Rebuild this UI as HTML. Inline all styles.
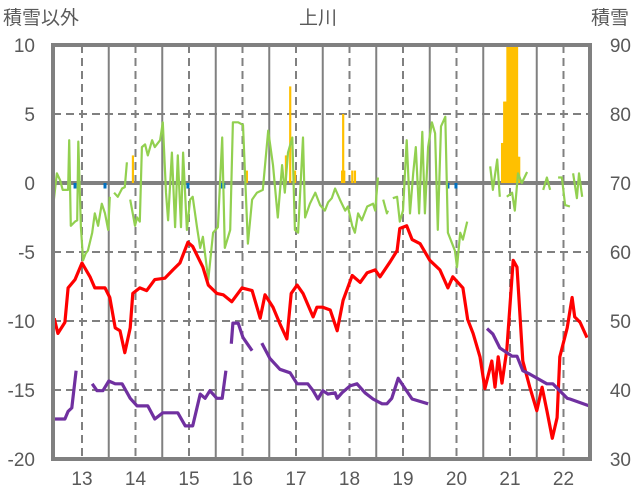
<!DOCTYPE html>
<html><head><meta charset="utf-8">
<style>
html,body{margin:0;padding:0;background:#fff;}
svg{display:block;font-family:"Liberation Sans","Noto Sans CJK JP",sans-serif;}
</style></head>
<body>
<svg id="chart" width="636" height="501" viewBox="0 0 636 501" xmlns="http://www.w3.org/2000/svg">
<text x="3" y="24" font-size="19" fill="#595959">積雪以外</text>
<text x="318" y="24" font-size="19" fill="#595959" text-anchor="middle">上川</text>
<text x="591" y="24" font-size="19" fill="#595959">積雪</text>
<g id="grid"></g>
<g id="bars"></g>
<g id="lines"></g>
<rect x="53" y="45" width="537" height="414" fill="none" stroke="#808080" stroke-width="4"/>
<g id="labels"></g>
</svg>
<script>
const xTicks = [13,14,15,16,17,18,19,20,21,22];
const leftTicks = [10,5,0,-5,-10,-15,-20];
const rightTicks = [90,80,70,60,50,40,30];

const redT = [12.48,12.55,12.68,12.74,12.87,13.0,13.15,13.24,13.43,13.52,13.62,13.71,13.8,13.9,13.95,14.08,14.21,14.36,14.55,14.7,14.83,14.98,15.07,15.26,15.36,15.52,15.64,15.8,15.99,16.18,16.33,16.42,16.57,16.7,16.83,16.91,17.02,17.13,17.32,17.39,17.5,17.64,17.77,17.88,18.05,18.2,18.33,18.48,18.57,18.76,18.89,18.94,19.07,19.17,19.32,19.5,19.69,19.84,19.93,20.12,20.21,20.31,20.44,20.53,20.66,20.72,20.78,20.85,20.94,21.06,21.13,21.24,21.37,21.5,21.6,21.69,21.79,21.88,21.93,22.07,22.16,22.21,22.31,22.44];
const redV = [-9.8,-10.9,-10.1,-7.6,-7.0,-5.8,-6.8,-7.6,-7.6,-8.3,-10.5,-10.7,-12.3,-10.5,-8.0,-7.6,-7.8,-7.0,-6.9,-6.3,-5.8,-4.3,-4.6,-6.1,-7.4,-8.0,-8.1,-8.6,-7.6,-7.8,-9.8,-8.1,-9.0,-10.2,-11.3,-8.0,-7.4,-8.0,-9.7,-9.0,-9.0,-9.2,-10.7,-8.5,-6.7,-7.2,-6.5,-6.3,-6.8,-5.7,-4.9,-3.3,-3.1,-4.1,-4.4,-5.6,-6.3,-7.6,-6.8,-7.6,-9.9,-10.9,-12.6,-14.9,-12.9,-14.8,-12.6,-14.5,-12.1,-5.6,-6.1,-12.9,-14.8,-16.5,-14.8,-16.5,-18.5,-17.0,-12.6,-10.5,-8.3,-9.7,-10.1,-11.2];

// snow depth (right axis); null = gap
const snowT = [12.48,12.68,12.74,12.81,12.89,null,13.19,13.28,13.39,13.5,13.62,13.75,13.9,14.03,14.23,14.36,14.51,14.79,14.93,15.07,15.21,15.3,15.39,15.52,15.62,15.69,null,15.79,15.82,15.92,16.01,16.18,null,16.36,16.51,16.7,16.89,17.02,17.22,17.32,17.41,17.5,17.6,17.73,17.77,17.86,18.01,18.14,18.29,18.44,18.61,18.7,18.79,18.91,19.04,19.17,19.47,null,19.75,19.84,null,20.44,20.57,20.68,20.81,21.04,21.13,21.24,21.37,21.69,21.8,22.07,22.12,22.48];
const snowV = [35.8,35.8,36.9,37.4,42.8,null,40.9,39.9,39.9,41.3,40.9,40.9,38.8,37.7,37.7,35.8,36.7,36.7,34.8,34.8,39.4,38.8,39.9,38.8,38.8,42.8,null,46.7,49.7,49.7,47.6,45.7,null,46.8,44.6,43.0,42.5,40.9,40.9,39.9,38.7,39.9,39.4,39.6,38.8,39.6,40.6,40.9,39.6,38.7,38.0,38.0,38.8,41.7,40.2,38.7,38.0,38.0,null,42.8,47.8,null,48.9,48.1,46.1,44.9,44.9,42.8,42.3,40.9,40.9,38.8,38.7,37.7,37.7];

const greenT = [12.46,12.53,12.59,12.64,12.74,12.76,12.79,12.87,12.91,12.93,12.98,13.02,13.07,13.11,13.19,13.24,13.30,13.37,13.43,13.49,13.52,null,13.60,13.67,13.75,13.80,13.84,null,13.90,13.99,14.03,14.08,14.12,14.18,14.23,14.31,14.36,14.46,14.51,14.57,14.61,14.68,14.74,14.79,14.85,14.89,14.96,15.02,15.07,15.15,15.21,15.26,15.36,15.45,15.54,15.62,15.67,15.77,15.82,15.92,16.01,16.10,16.18,16.27,16.38,16.48,16.57,16.66,16.74,16.79,16.85,16.93,16.98,17.04,17.13,17.17,17.26,17.36,17.45,17.54,17.60,17.67,17.73,17.82,17.92,17.97,18.05,18.10,18.16,18.23,18.33,18.44,18.48,18.53,null,18.63,18.70,18.72,null,18.81,18.89,18.94,19.00,19.07,19.13,19.19,19.24,19.30,19.36,19.41,19.47,19.54,19.60,19.65,19.71,19.79,19.84,19.92,19.97,20.01,20.07,20.12,20.20,null,20.63,20.68,20.76,20.81,null,20.94,21.04,21.09,21.15,21.22,21.32,null,21.62,21.69,21.75,null,21.90,21.97,22.03,22.12,null,22.18,22.25,22.29,22.35];
const greenV = [-1.7,0.7,0.2,-0.5,-0.5,3.1,-3.1,-2.8,-2.7,3.0,-3.2,-5.6,-5.1,-4.9,-3.6,-2.2,-3.1,-1.5,-2.2,-3.4,-1.0,null,-0.7,-1.0,-0.4,-0.3,1.5,null,-1.2,-3.1,-2.5,-2.8,2.6,2.8,2.0,3.1,2.6,3.1,4.4,-0.7,-2.7,2.2,-3.2,2.0,-3.2,2.2,-3.4,-1.2,-1.0,-3.2,-4.7,-3.9,-7.0,-3.6,-3.2,3.3,-4.7,-3.4,4.4,4.4,4.2,-4.4,-1.2,-0.7,-0.5,3.8,1.3,-2.5,1.3,-0.7,2.2,3.3,-3.4,-3.6,3.3,-2.5,-1.5,-0.7,-1.6,-2.0,-1.4,-1.1,-0.4,-1.2,-2.0,-1.7,-3.1,-3.6,-2.2,-2.7,-1.7,-1.5,-2.0,0.4,null,-1.2,-2.2,-2.0,null,-1.1,-1.0,-2.8,-2.0,3.1,-2.2,0.7,2.6,-2.2,3.7,-2.2,2.6,4.4,3.6,-3.4,4.1,4.8,-3.6,-4.4,-4.9,-6.1,-3.6,-4.1,-2.8,null,1.2,-0.5,1.7,-1.0,null,-1.0,-0.7,-2.0,0.7,0,0.8,null,-0.5,0.4,-0.5,null,0.4,0.4,-1.6,-1.7,null,0.7,-1.1,0.7,-1.0];

const orangeT = [13.95,16.08,16.81,16.89,16.98,17.86,17.88,17.90,18.05,18.10,20.85,20.87,20.89,20.91,20.93,20.95,20.97,20.99,21.01,21.03,21.05,21.07,21.09,21.11,21.13,21.15,21.17];
const orangeV = [2.0,0.9,2.0,7.0,0.9,0.9,5.0,0.9,0.9,0.9,2.9,2.9,5.9,5.9,5.9,12,12,12,12,12,12,12,12,12,12,1.9,1.9];
const blueT = [12.87,13.43,14.98,15.62,15.65,19.84,19.99];
const blueV = [-0.4,-0.4,-0.4,-0.4,-0.4,-0.4,-0.4];

const X0=53,X1=590,Y0=45,Y1=459;
function xs(t){return 82+(t-13)*53.5;}
function yl(v){return 183-v*(Y1-183)/20;}
function yr(s){return Y1-(s-30)*(Y1-Y0)/60;}
const NS="http://www.w3.org/2000/svg";
function mk(tag,attrs,parent){const e=document.createElementNS(NS,tag);for(const k in attrs)e.setAttribute(k,attrs[k]);parent.appendChild(e);return e;}
const grid=document.getElementById('grid'),bars=document.getElementById('bars'),lines=document.getElementById('lines'),labels=document.getElementById('labels');

leftTicks.forEach(v=>{const y=yl(v);if(v===10||v===-20)return;
 const l=mk('line',{x1:X0,x2:X1,y1:y,y2:y,stroke:'#808080','stroke-width':v===0?4:2,'stroke-dasharray':v===0?'none':'8,5'},grid);
 
 });
xTicks.forEach(t=>{const x=xs(t);
 const l=mk('line',{x1:x,x2:x,y1:Y0,y2:Y1,stroke:'#808080','stroke-width':2,'stroke-dasharray':'8,5'},grid);
 
 
 const sx=xs(t+0.5); if(sx<X1-3){const s=mk('line',{x1:sx,x2:sx,y1:Y0,y2:Y1,stroke:'#808080','stroke-width':2},grid);
 
 }
 const tx=mk('text',{x:x,y:485,'font-size':19,fill:'#595959','text-anchor':'middle'},labels);tx.textContent=t;
 
 });
leftTicks.forEach(v=>{const tx=mk('text',{x:35,y:yl(v)+7,'font-size':19,fill:'#595959','text-anchor':'end'},labels);tx.textContent=v;
 
 });
rightTicks.forEach(s=>{const tx=mk('text',{x:631,y:yr(s)+7,'font-size':19,fill:'#595959','text-anchor':'end'},labels);tx.textContent=s;
 
 });

orangeT.forEach((t,i)=>{const v=Math.min(orangeV[i],10);const y=yl(v);
 const r=mk('rect',{x:xs(t)-1,y:y,width:2.2,height:yl(0)-y,fill:'#FFC000'},bars);
 
 });
blueT.forEach((t,i)=>{const y=yl(blueV[i]);
 const r=mk('rect',{x:xs(t)-1.5,y:yl(0),width:3,height:y-yl(0),fill:'#0070C0'},bars);
 
 });

function pathD(T,V,yf){let d='',pen=false;for(let i=0;i<T.length;i++){if(T[i]===null||V[i]===null){pen=false;continue;}
 d+=(pen?'L':'M')+xs(T[i]).toFixed(1)+','+yf(V[i]).toFixed(1);pen=true;}return d;}
const g=mk('path',{d:pathD(greenT,greenV,yl),fill:'none',stroke:'#92D050','stroke-width':2.2,'stroke-linejoin':'round'},lines);


const r=mk('path',{d:pathD(redT,redV,yl),fill:'none',stroke:'#FF0000','stroke-width':3.2,'stroke-linejoin':'round'},lines);


const p=mk('path',{d:pathD(snowT,snowV,yr),fill:'none',stroke:'#7030A0','stroke-width':3.2,'stroke-linejoin':'round'},lines);


</script>
</body></html>
